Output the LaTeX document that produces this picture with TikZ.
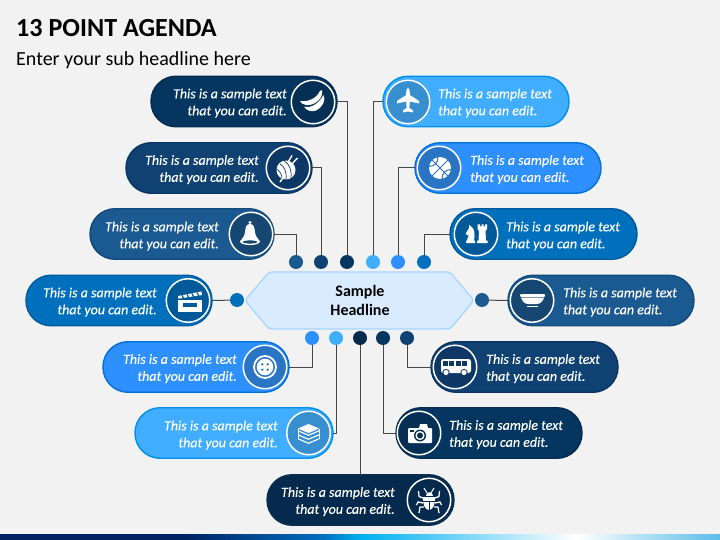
\documentclass[tikz,border=0pt]{standalone}
\usepackage{fontspec}
\setmainfont{Carlito}
\newfontfamily\pillfam[ItalicFeatures={FakeBold=0.25}]{Carlito}
\definecolor{cNavy}{HTML}{002060}
\definecolor{cMid}{HTML}{0070C0}
\definecolor{cSky}{HTML}{00B0F0}
\definecolor{cEnd}{HTML}{5BBDE8}
\pgfdeclarehorizontalshading{footshade}{100bp}{color(0bp)=(cNavy);color(37.5bp)=(cNavy);color(47.5bp)=(cMid);color(50bp)=(cSky);color(65bp)=(white);color(75bp)=(cEnd);color(100bp)=(cEnd)}
\definecolor{pagebg}{HTML}{F2F2F2}
\definecolor{hubfill}{HTML}{D9ECFF}
\definecolor{hubedge}{HTML}{A6D5FF}
\definecolor{toneA}{HTML}{40ADFF}\definecolor{edgeA}{HTML}{0090F0}\definecolor{discA}{HTML}{378FCF}
\definecolor{toneB}{HTML}{2E90FF}\definecolor{edgeB}{HTML}{0070D8}\definecolor{discB}{HTML}{2A74C4}
\definecolor{toneC}{HTML}{0070BC}\definecolor{edgeC}{HTML}{005A9C}\definecolor{discC}{HTML}{005A9A}
\definecolor{toneD}{HTML}{1A5A91}\definecolor{edgeD}{HTML}{134A7A}\definecolor{discD}{HTML}{164672}
\definecolor{toneE}{HTML}{0F4273}\definecolor{edgeE}{HTML}{0C3560}\definecolor{discE}{HTML}{0D3866}
\definecolor{toneF}{HTML}{04365F}\definecolor{edgeF}{HTML}{042C50}\definecolor{discF}{HTML}{052F55}
\definecolor{toneG}{HTML}{052A4E}\definecolor{edgeG}{HTML}{0A3050}\definecolor{discG}{HTML}{052A4E}
\tikzset{
  x=1pt,y=-1pt,
  pill/.style={rectangle,rounded corners=25pt,minimum height=50.5pt,inner sep=0,outer sep=0,line width=1.4pt},
  pA/.style={pill,fill=toneA,draw=edgeA},pB/.style={pill,fill=toneB,draw=edgeB},pC/.style={pill,fill=toneC,draw=edgeC},
  pD/.style={pill,fill=toneD,draw=edgeD},pE/.style={pill,fill=toneE,draw=edgeE},pF/.style={pill,fill=toneF,draw=edgeF},pG/.style={pill,fill=toneG,draw=edgeG},
  badge/.style={circle,minimum size=43.5pt,inner sep=0,outer sep=0,draw=white,line width=1.5pt},
  pointdot/.style={circle,minimum size=14pt,inner sep=0,outer sep=0},
  link/.style={draw=black!72,line width=1pt},
  txt/.style={text=white,inner sep=0,yshift=-1.6pt,font=\pillfam\fontsize{14}{17}\selectfont\itshape},
  txtr/.style={txt,anchor=east,align=right},
  txtl/.style={txt,anchor=west,align=left},
}
\newcommand{\samp}{This is a sample text\\that you can edit.}
\begin{document}
\begin{tikzpicture}
\useasboundingbox (0,0) rectangle (720,540);
\fill[pagebg] (0,0) rectangle (720,540);
\shade[shading=footshade] (0,534) rectangle (720,540);
\node[anchor=base west,inner sep=0,font=\fontsize{26.1}{30}\selectfont\bfseries] (title) at (16,36.7) {13 POINT AGENDA};
\node[anchor=base west,inner sep=0,font=\fontsize{20}{24}\selectfont] (sub) at (16,66) {Enter your sub headline here};
% dots
\foreach \n/\px/\py/\c in {dA/296/262/toneD,dB/321/262/toneE,dC/347/262/toneF,dD/373/262/toneA,dE/398/262/toneB,dF/424/262/toneC,dG/237/300/toneC,dH/482/300/toneD,dI/312/338/toneB,dJ/336/338/toneA,dK/360/338/toneG,dL/383/338/toneF,dM/407/338/toneE}
  \node[pointdot,fill=\c] (\n) at (\px,\py) {};
% pills
\node[pF,minimum width=186pt] (banana) at (244,101.5) {};
\node[pE,minimum width=186pt] (yarn) at (219,168) {};
\node[pD,minimum width=184pt] (bell) at (182,234) {};
\node[pA,minimum width=186pt] (plane) at (476,101.5) {};
\node[pB,minimum width=186pt] (ball) at (508,168) {};
\node[pC,minimum width=187pt] (chess) at (543.5,234) {};
\node[pC,minimum width=186pt] (clap) at (119,300.5) {};
\node[pD,minimum width=186pt] (bowl) at (601,300.5) {};
\node[pB,minimum width=186pt] (button) at (196,367) {};
\node[pE,minimum width=187pt] (bus) at (524.5,367) {};
\node[pA,minimum width=198pt] (layers) at (234,433) {};
\node[pF,minimum width=186pt] (camera) at (489,433) {};
\node[pG,minimum width=187pt] (bug) at (360.5,500) {};
% connectors
\draw[link] (banana.east) -| (dC);
\draw[link] (yarn.east) -| (dB);
\draw[link] (bell.east) -| (dA);
\draw[link] (plane.west) -| (dD);
\draw[link] (ball.west) -| (dE);
\draw[link] (chess.west) -| (dF);
\draw[link] (clap.east) -- (dG);
\draw[link] (bowl.west) -- (dH);
\draw[link] (button.east) -| (dI);
\draw[link] (layers.east) -| (dJ);
\draw[link] (bus.west) -| (dM);
\draw[link] (camera.west) -| (dL);
\draw[link] (dK) -- (dK |- bug.north);
% hub
\filldraw[fill=hubfill,draw=hubedge,line width=1.3pt,rounded corners=3pt]
 (245,300.5) -- (269,272) -- (450,272) -- (474,300.5) -- (450,329) -- (269,329) -- cycle;
\node[inner sep=0,align=center,font=\fontsize{16}{19}\selectfont\bfseries] (hub) at (360,300.5) {Sample\\Headline};
% badges
\node[badge,fill=discF] (bananaB) at (313,102) {};
\node[badge,fill=discE] (yarnB) at (288,168) {};
\node[badge,fill=discD] (bellB) at (251,234) {};
\node[badge,fill=discA] (planeB) at (408,102) {};
\node[badge,fill=discB] (ballB) at (439,168) {};
\node[badge,fill=discC] (chessB) at (476,234) {};
\node[badge,fill=discC] (clapB) at (188,300.5) {};
\node[badge,fill=discD] (bowlB) at (532,300.5) {};
\node[badge,fill=discB] (buttonB) at (265,367) {};
\node[badge,fill=discE] (busB) at (455,367) {};
\node[badge,fill=discA] (layersB) at (308.5,433) {};
\node[badge,fill=discF] (cameraB) at (419,433) {};
\node[badge,fill=discG] (bugB) at (429,500) {};
% texts
\node[txtr] (t1) at (287,101.5) {\samp};
\node[txtr] (t2) at (259,168) {\samp};
\node[txtr] (t3) at (219,234.5) {\samp};
\node[txtr] (t4) at (157,300.5) {\samp};
\node[txtr] (t5) at (237,367) {\samp};
\node[txtr] (t6) at (278,433.5) {\samp};
\node[txtr] (t7) at (395,500) {\samp};
\node[txtl] (t8) at (438,101.5) {\samp};
\node[txtl] (t9) at (470,168) {\samp};
\node[txtl] (t10) at (506,234.5) {\samp};
\node[txtl] (t11) at (563,300.5) {\samp};
\node[txtl] (t12) at (486,367) {\samp};
\node[txtl] (t13) at (449,433) {\samp};
% icons
\begin{scope}[shift={(313,102)}] % banana
 \fill[white] (-13,-1) .. controls (-5,0) and (3,-3) .. (7,-11) -- (9,-12) -- (9,-9) .. controls (9,-2) and (0,4) .. (-7,3) .. controls (-10,3) and (-12,1) .. cycle;
 \fill[white] (-9,5) .. controls (-3,6) and (5,3) .. (10.5,-7) .. controls (13,-2) and (10,5) .. (3,8.5) .. controls (-1,10) and (-6,9) .. cycle;
\end{scope}
\begin{scope}[shift={(288,168)}] % yarn
 \draw[white,line width=1.4pt] (4,-12.5) -- (-1,-4);
 \draw[white,line width=1.4pt] (9.5,-10) -- (3,-3);
 \fill[white] (-2,2) circle[radius=9.5];
 \draw[discE,line width=.7pt] (-8,-4) .. controls (-4,-2) and (-1,4) .. (-2,11.5);
 \draw[discE,line width=.7pt] (-4,-7.5) .. controls (1,-4) and (4,1) .. (3,10);
 \draw[discE,line width=.7pt] (-11.5,1) .. controls (-8,3) and (-6,7) .. (-6,10.5);
 \draw[white,line width=1.4pt] (-8,14) -- (-3,7);
\end{scope}
\begin{scope}[shift={(251,234)}] % bell
 \fill[white] (-1,-11.5) circle[radius=1.6];
 \fill[white] (-1,-10) .. controls (-5,-10) and (-5.5,-6.5) .. (-6,-2) .. controls (-6.5,2) and (-8,3.5) .. (-9.5,5.5) -- (7.5,5.5) .. controls (6,3.5) and (4.5,2) .. (4,-2) .. controls (3.5,-6.5) and (3,-10) .. cycle;
 \fill[white] (-1,7.5) ellipse[x radius=10,y radius=3.6];
 \fill[discD] (-1,8) ellipse[x radius=7,y radius=1.6];
\end{scope}
\begin{scope}[shift={(408,101)}] % plane
 \fill[white] (0,-13.5) .. controls (1.8,-12) and (1.8,-10) .. (1.8,-6) -- (11,0) -- (11,2.5) -- (1.8,0.5) -- (1.4,7) -- (5,9.5) -- (5,11.5) -- (0,10.5) -- (-5,11.5) -- (-5,9.5) -- (-1.4,7) -- (-1.8,.5) -- (-11,2.5) -- (-11,0) -- (-1.8,-6) .. controls (-1.8,-10) and (-1.8,-12) .. cycle;
\end{scope}
\begin{scope}[shift={(440,168)}] % basketball
 \fill[white] (0,0) circle[radius=11];
 \draw[discB,line width=1pt] (-7.8,-7.8) -- (7.8,7.8);
 \draw[discB,line width=1pt] (7.8,-7.8) -- (-7.8,7.8);
 \draw[discB,line width=1pt] (-2,-11) .. controls (-2,-5) and (-5,-2) .. (-11,-1.5);
 \draw[discB,line width=1pt] (11,1.5) .. controls (5,2) and (2,5) .. (2,11);
\end{scope}
\begin{scope}[shift={(476,234)}] % chess
 \fill[white] (-10,9) -- (-10,6.5) -- (-9,6.5) .. controls (-9,3) and (-7,2) .. (-6,0) -- (-8,1.5) -- (-10.5,0) -- (-7,-6) -- (-7,-9) -- (-5,-7.5) .. controls (-1,-6) and (-1,2) .. (-2,6.5) -- (-1,6.5) -- (-1,9) -- cycle;
 \fill[white] (1,9) -- (1,6.5) -- (2.5,6.5) -- (3,-3) -- (1.5,-5) -- (1.5,-9.5) -- (4,-9.5) -- (4,-7.5) -- (5.5,-7.5) -- (5.5,-9.5) -- (7.5,-9.5) -- (7.5,-7.5) -- (9,-7.5) -- (9,-9.5) -- (11,-9.5) -- (11,-5) -- (9.5,-3) -- (10,6.5) -- (11.5,6.5) -- (11.5,9) -- cycle;
\end{scope}
\begin{scope}[shift={(188,300.5)}] % clapper
 \fill[white] (-10,-1) rectangle (14,11);
 \fill[discC] (-5,2) rectangle (9,6);
 \fill[white] (-10,-4.5) -- (13.5,-9) -- (14,-5.5) -- (-9.5,-1.8) -- cycle;
 \foreach \s in {-6,-1,4,9} \draw[discC,line width=1.2pt] (\s,-5.9+-0.19*\s-.4) -- (\s+1.6,-2.8+-0.16*\s-.4);
\end{scope}
\begin{scope}[shift={(532,300.5)}] % bowl
 \fill[white] (-12,-6.5) [rounded corners=1pt] -- (13,-6.5) -- (13,-3.5) -- (-12,-3.5) -- cycle;
 \fill[white] (-11,-3) -- (12,-3) .. controls (11,1) and (8,3.5) .. (5,3.5) -- (-4,3.5) .. controls (-7,3.5) and (-10,1) .. cycle;
 \fill[white] (-5,5.4) rectangle (6,6.4);
\end{scope}
\begin{scope}[shift={(265,367)}] % button
 \draw[white,line width=1.8pt] (0,0) circle[radius=11];
 \fill[white] (0,0) circle[radius=8.3];
 \foreach \a/\b in {-1/-1,1/-1,-1/1,1/1} \fill[discB] (2.7*\a,2.7*\b) circle[radius=1.3];
\end{scope}
\begin{scope}[shift={(455,367)}] % bus
 \fill[white,rounded corners=2.5pt] (-14,-8) rectangle (16,6);
 \foreach \s in {-12.5,-6,0.5} \fill[discE] (\s,-6) rectangle (\s+5,-1.5);
 \fill[discE] (7,-6) rectangle (12,-1.5);
 \foreach \s in {-9,9} {\fill[discE] (\s,5.5) circle[radius=3.6]; \fill[white] (\s,5.5) circle[radius=2.6];}
\end{scope}
\begin{scope}[shift={(308.5,433)}] % layers
 \fill[white] (0,-9) -- (10.5,-4.5) -- (0,0) -- (-10.5,-4.5) -- cycle;
 \foreach \s in {0,4,8} \draw[white,line width=1.1pt,line join=round] (-10.5,-2.2+\s) -- (0,2.3+\s) -- (10.5,-2.2+\s);
 \draw[white,line width=1pt] (-10.5,-4.5) -- (-10.5,5.8) (10.5,-4.5) -- (10.5,5.8);
\end{scope}
\begin{scope}[shift={(419,433)}] % camera
 \fill[white,rounded corners=1pt] (-11,-5) rectangle (13,10);
 \fill[white] (0,-5) -- (1,-9) -- (8,-9) -- (9,-5) -- cycle;
 \fill[discF] (-9,-3.5) rectangle (-5,-1);
 \fill[discF] (1,2.5) circle[radius=6];
 \fill[white] (1,2.5) circle[radius=4.6];
 \fill[discF] (1,2.5) circle[radius=3];
\end{scope}
\begin{scope}[shift={(429,500)}] % bug
 \draw[white,line width=1pt] (-2,-7) -- (-5,-12) (2,-7) -- (5,-12);
 \fill[white] (-3.5,-4) .. controls (-3.5,-9) and (3.5,-9) .. (3.5,-4) -- cycle;
 \fill[white] (-6,-3) .. controls (-6.5,4) and (-4,10) .. (0,10) .. controls (4,10) and (6.5,4) .. (6,-3) -- cycle;
 \draw[discG,line width=.9pt] (0,1) -- (0,10);
 \draw[discG,line width=.9pt] (-6,1) -- (6,1);
 \foreach \m in {-1,1} {
  \draw[white,line width=1.3pt,line join=round] (\m*6,-2) -- (\m*10,-3.5) -- (\m*10.5,-9);
  \draw[white,line width=1.3pt] (\m*6,3) -- (\m*11,2) -- (\m*12.5,5);
  \draw[white,line width=1.3pt,line join=round] (\m*5,7) -- (\m*9,7) -- (\m*10,13);
 }
\end{scope}
\end{tikzpicture}
\end{document}
